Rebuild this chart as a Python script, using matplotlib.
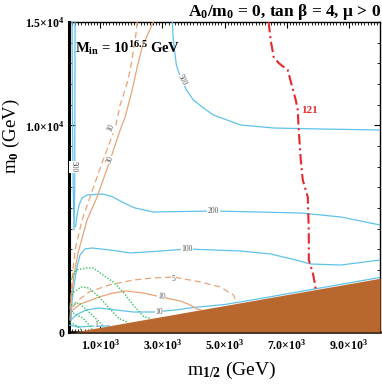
import numpy as np
import matplotlib
matplotlib.use('Agg')
import matplotlib.pyplot as plt
from matplotlib.ticker import MultipleLocator, FixedLocator

plt.rcParams['font.family'] = 'Liberation Serif'
plt.rcParams['font.weight'] = 'bold'
plt.rcParams['mathtext.fontset'] = 'custom'
plt.rcParams['mathtext.rm'] = 'Liberation Serif:bold'
plt.rcParams['mathtext.it'] = 'Liberation Serif:bold'
plt.rcParams['mathtext.bf'] = 'Liberation Serif:bold'
plt.rcParams['mathtext.default'] = 'rm'

# --- data (GeV) ---
# excluded (brown) region: boundary from bottom-left to right edge
brown_x = [150, 10000]
brown_y = [0, 2600]

# blue contours
b500v_x = [100, 110, 130, 160, 185, 190, 195]
b500v_y = [15000, 11000, 7500, 4950, 7000, 11000, 15000]
b500_x = [3323, 3355, 3452, 3581, 3774, 4000, 4323, 4645, 5516, 6581, 8097, 10000]
b500_y = [15000, 14129, 12919, 12339, 11710, 11226, 10839, 10500, 10016, 9871, 9823, 9774]
b200_x = [210, 260, 323, 419, 581, 1097, 1419, 1710, 1968, 2129, 2710, 4645, 7452, 8742, 10000]
b200_y = [5100, 5662, 6145, 6484, 6629, 6678, 6532, 6290, 6097, 6000, 5807, 5855, 5758, 5565, 5178]
b100_x = [65, 97, 161, 258, 355, 516, 742, 1323, 1968, 2935, 3806, 5516, 6484, 7290, 7774, 8742, 10000]
b100_y = [581, 1452, 2274, 3145, 3726, 4016, 4065, 3968, 3823, 3919, 4016, 3919, 3774, 3484, 3290, 3242, 3484]
b10_x = [65, 226, 548, 968, 1516, 2065, 2742, 3419, 3968, 5000, 6000, 8000, 10000]
b10_y = [581, 823, 1065, 1161, 1065, 968, 968, 1065, 1180, 1330, 1580, 2110, 2640]
b1_x = [0, 323, 774, 1161, 1290]
b1_y = [339, 242, 290, 290, 300]

# red dash-dot (121)
red_x = [6419, 6484, 6581, 6742, 6903, 7032, 7161, 7290, 7355, 7387, 7452, 7516, 7677, 7710, 7710, 7839, 7903, 7935]
red_y = [15000, 14129, 13307, 13016, 12823, 12677, 11952, 11226, 10742, 9774, 8323, 7355, 6532, 4936, 3484, 2855, 2371, 2060]

# orange contours
osteep_x = [2710, 2355, 2194, 2032, 1806, 1645, 1323, 903, 581, 290, 161, 65, 32]
osteep_y = [15000, 13791, 12823, 11710, 10403, 9774, 8323, 6532, 5420, 3823, 2758, 1548, 581]
dsteep_x = [2194, 2129, 1968, 1871, 1645, 1484, 1097, 677, 419, 194, 97, 32]
dsteep_y = [15000, 14129, 12677, 12049, 10984, 9871, 8323, 6532, 5420, 3968, 2516, 1065]
o10_x = [129, 355, 548, 968, 1419, 1839, 2387, 2968, 3581, 3903, 4129, 4230]
o10_y = [1065, 1355, 1452, 1694, 1887, 1984, 1887, 1694, 1500, 1307, 1100, 1080]
o5_x = [129, 226, 645, 1290, 2065, 2710, 3355, 4226, 4871, 5290, 5400]
o5_y = [1210, 1452, 1936, 2274, 2516, 2613, 2661, 2420, 2178, 1790, 1390]

# green dotted arcs
g1_x = [65, 226, 548, 774, 1097, 1419, 1742, 2065, 2387, 2600]
g1_y = [2516, 3000, 3097, 3097, 2758, 2420, 1936, 1307, 760, 660]
g2_x = [97, 161, 387, 645, 968, 1290, 1613, 1900]
g2_y = [1790, 1936, 2178, 2129, 1694, 1161, 640, 470]
g3_x = [65, 323, 645, 968, 1100]
g3_y = [1307, 1403, 968, 500, 280]
g4_x = [129, 452, 645, 750]
g4_y = [919, 677, 339, 160]
g5_x = [32, 250, 420]
g5_y = [484, 300, 80]

blue = '#5ec2ea'
orange = '#e8a476'
green = '#2fc45a'
brownc = '#b8682e'
red = '#e8262c'

fig = plt.figure(figsize=(3.82, 3.84), dpi=100)
ax = fig.add_axes([0.1806, 0.1354, 0.8142, 0.8073])
ax.set_xlim(0, 10000)
ax.set_ylim(0, 15000)

# brown excluded region
ax.fill_between(brown_x, 0, brown_y, color=brownc, lw=0, zorder=5)

for xs, ys in [(b500v_x, b500v_y), (b500_x, b500_y), (b200_x, b200_y),
               (b100_x, b100_y), (b10_x, b10_y), (b1_x, b1_y)]:
    ax.plot(xs, ys, color=blue, lw=0.9, zorder=3)

ax.plot(osteep_x, osteep_y, color=orange, lw=0.9, zorder=3)
ax.plot(dsteep_x, dsteep_y, color=orange, lw=0.9, ls=(0, (5, 3)), zorder=3)
ax.plot(o10_x, o10_y, color=orange, lw=0.9, zorder=3)
ax.plot(o5_x, o5_y, color=orange, lw=0.9, ls=(0, (5, 3)), zorder=3)

for xs, ys in [(g1_x, g1_y), (g2_x, g2_y), (g3_x, g3_y), (g4_x, g4_y), (g5_x, g5_y)]:
    ax.plot(xs, ys, color=green, lw=1.0, ls=(0, (1, 1.2)), zorder=3)

ax.plot(red_x, red_y, color=red, lw=1.5, ls=(0, (5, 1.8, 1, 1.8)), zorder=4)


def clabel(x, y, s, rot=0):
    ax.text(x, y, s, fontsize=5.5, color='#555555', rotation=rot,
            ha='center', va='center', fontweight='normal', zorder=4,
            bbox=dict(facecolor='white', edgecolor='none', pad=0.3))


clabel(b500v_x[2] + 20, b500v_y[2] + 500, '500', -90)
clabel(b500_x[3] + 60, b500_y[3] - 150, '500', -62)
clabel(b200_x[11], b200_y[11], '200')
clabel(b100_x[10], b100_y[10], '100')
clabel(b10_x[6] + 150, b10_y[6], '10')
clabel(b1_x[2] + 100, b1_y[2] + 40, '1')
clabel(o10_x[7], o10_y[7], '10', -10)
clabel(o5_x[6], o5_y[6] - 120, '5')
clabel(dsteep_x[5] - 130, dsteep_y[5], '10', 68)
clabel(osteep_x[6], osteep_y[6], '30', 68)

ax.text(red_x[8] + 120, red_y[8], '121', color=red, fontsize=8,
        fontweight='bold', ha='left', va='center', zorder=5)

ax.text(0.02, 0.915, r'M$_{\rm in}$ = 10$^{16.5}$ GeV', transform=ax.transAxes,
        fontsize=10.5, ha='left', va='center', zorder=6)
fig.text(0.997, 0.968, r'A$_0$/m$_0$ = 0, tan β = 4, μ > 0', fontsize=12.5,
         ha='right', va='center')

ax.set_xlabel(r'm$_{1/2}$ (GeV)', fontsize=14)
ax.xaxis.set_label_coords(0.524, -0.09)
ax.set_ylabel(r'm$_0$ (GeV)', fontsize=13.5)
ax.yaxis.set_label_coords(-0.15, 0.63)

# ticks
ax.xaxis.set_major_locator(FixedLocator([1000, 3000, 5000, 7000, 9000]))
ax.set_xticklabels([r'1.0$\times$10$^3$', r'3.0$\times$10$^3$', r'5.0$\times$10$^3$',
                    r'7.0$\times$10$^3$', r'9.0$\times$10$^3$'])
ax.xaxis.set_minor_locator(MultipleLocator(100))
ax.yaxis.set_major_locator(FixedLocator([0, 10000, 15000]))
ax.set_yticklabels(['0', r'1.0$\times$10$^4$', r'1.5$\times$10$^4$'])
ax.yaxis.set_minor_locator(MultipleLocator(1000))
ax.tick_params(which='both', direction='in', top=True, right=True, labelsize=8.5)
ax.tick_params(which='major', length=4, width=0.8)
ax.tick_params(which='minor', length=2.5, width=0.6)
ax.tick_params(axis='x', pad=4)

ax.spines['left'].set_linewidth(2.2)
ax.spines['bottom'].set_linewidth(1.8)
ax.spines['top'].set_linewidth(1.0)
ax.spines['right'].set_linewidth(1.0)

fig.savefig('out.png', dpi=100)
